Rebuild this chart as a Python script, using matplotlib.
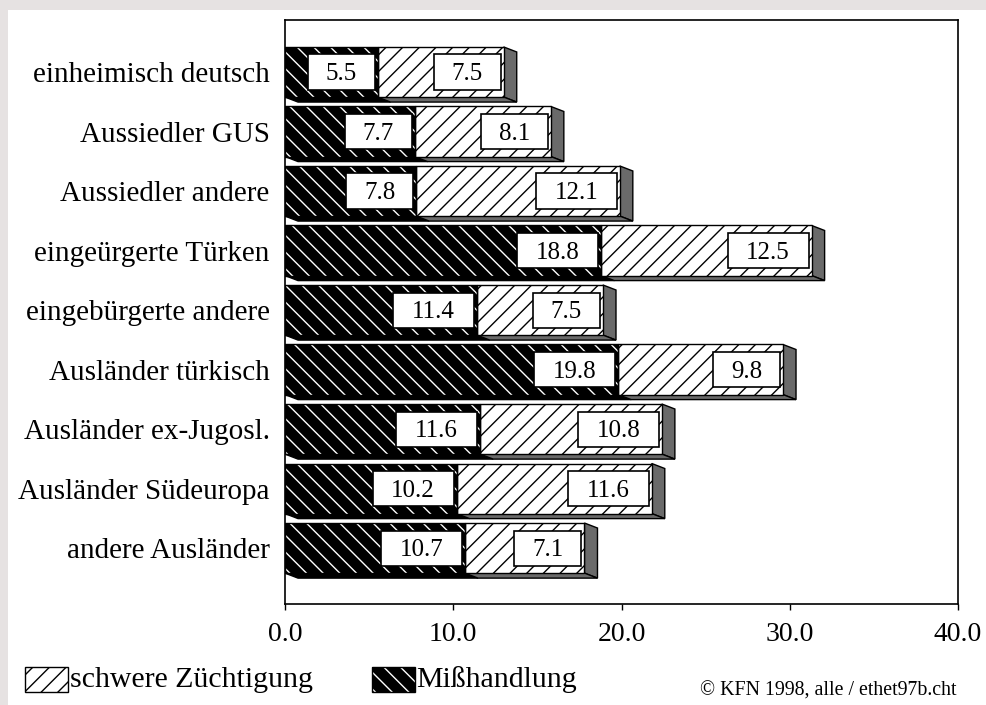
import matplotlib
matplotlib.use("Agg")
import matplotlib.pyplot as plt
from matplotlib.patches import Rectangle, Polygon

# data (percent)
categories = ["einheimisch deutsch", "Aussiedler GUS", "Aussiedler andere",
              "eingeürgerte Türken", "eingebürgerte andere", "Ausländer türkisch",
              "Ausländer ex-Jugosl.", "Ausländer Südeuropa", "andere Ausländer"]
misshandlung = [5.5, 7.7, 7.8, 18.8, 11.4, 19.8, 11.6, 10.2, 10.7]
zuechtigung = [7.5, 8.1, 12.1, 12.5, 7.5, 9.8, 10.8, 11.6, 7.1]
xticks = [0, 10, 20, 30, 40]

W, H = 987, 705
FONT = "Liberation Serif"
plt.rcParams["font.family"] = FONT
plt.rcParams["hatch.linewidth"] = 1.0

fig = plt.figure(figsize=(W / 100, H / 100), dpi=100, facecolor="#e6e2e2")
# white panel
fig.patches.append(Rectangle((8 / W, 0), 1, 1 - 10 / H, transform=fig.transFigure,
                             facecolor="white", edgecolor="none", zorder=-5))

ax = fig.add_axes([285 / W, 101 / H, 673 / W, 584 / H])
ax.set_zorder(2)
ax.set_xlim(0, 40)
ax.set_ylim(8.94, -0.874)
ax.patch.set_visible(False)

px_x = 673 / 40.0          # pixels per x unit
px_y = 59.4                # pixels per row
bh = 50 / px_y             # bar height
dx = 13 / px_x             # 3d depth
dy = 5 / px_y

for i, (m, z) in enumerate(zip(misshandlung, zuechtigung)):
    top, bot = i - bh / 2, i + bh / 2
    tot = m + z
    # 3d side and bottom faces
    ax.add_patch(Polygon([(tot, top), (tot + dx, top + dy), (tot + dx, bot + dy), (tot, bot)],
                         closed=True, facecolor="#6a6a6a", edgecolor="black", lw=1, zorder=1))
    ax.add_patch(Polygon([(0, bot), (m, bot), (m + dx, bot + dy), (dx, bot + dy)],
                         closed=True, facecolor="black", edgecolor="black", lw=1, zorder=1))
    ax.add_patch(Polygon([(m, bot), (tot, bot), (tot + dx, bot + dy), (m + dx, bot + dy)],
                         closed=True, facecolor="#6a6a6a", edgecolor="black", lw=1, zorder=1))

ax.barh(range(len(categories)), misshandlung, height=bh, color="black",
        edgecolor="white", hatch="\\\\", linewidth=0, zorder=2)
ax.barh(range(len(categories)), misshandlung, height=bh, fill=False,
        edgecolor="black", linewidth=1, zorder=3)
ax.barh(range(len(categories)), zuechtigung, left=misshandlung, height=bh,
        color="white", edgecolor="black", hatch="//", linewidth=1, zorder=2)


def value_box(x_end, y, val):
    s = f"{val:.1f}"
    w = (67 + 14 * (len(s) - 3)) / px_x
    h = 35 / px_y
    x1 = x_end - 3 / px_x
    ax.add_patch(Rectangle((x1 - w, y - h / 2), w, h, facecolor="white",
                           edgecolor="black", lw=1.2, zorder=4))
    ax.text(x1 - w / 2, y + 2 / px_y, s, ha="center", va="center", fontsize=18, zorder=5)


for i, (m, z) in enumerate(zip(misshandlung, zuechtigung)):
    value_box(m, i, m)
    value_box(m + z, i, z)

ax.set_yticks(range(len(categories)))
ax.set_yticklabels(categories, fontsize=21)
ax.tick_params(axis="y", length=0, pad=11)
ax.set_xticks(xticks)
ax.set_xticklabels([f"{t:.1f}" for t in xticks], fontsize=20)
ax.tick_params(axis="x", direction="out", length=4, width=1, pad=9)
for sp in ax.spines.values():
    sp.set_color("black")
    sp.set_linewidth(1.2)

# legend
fig.patches.append(Rectangle((25 / W, 1 - 692 / H), 43 / W, 25 / H, transform=fig.transFigure,
                             facecolor="white", edgecolor="black", hatch="//", lw=1, zorder=3))
fig.text(70 / W, 1 - 680 / H, "schwere Züchtigung", fontsize=21.5, va="center", ha="left")
fig.patches.append(Rectangle((372 / W, 1 - 692 / H), 43 / W, 25 / H, transform=fig.transFigure,
                             facecolor="black", edgecolor="white", hatch="\\\\", lw=0, zorder=3))
fig.patches.append(Rectangle((372 / W, 1 - 692 / H), 43 / W, 25 / H, transform=fig.transFigure,
                             fill=False, edgecolor="black", lw=1, zorder=4))
fig.text(416 / W, 1 - 680 / H, "Mißhandlung", fontsize=21.5, va="center", ha="left")
fig.text(957 / W, 1 - 691 / H, "© KFN 1998, alle / ethet97b.cht", fontsize=14.3,
         va="center", ha="right")

fig.savefig("out.png", dpi=100, facecolor=fig.get_facecolor())
